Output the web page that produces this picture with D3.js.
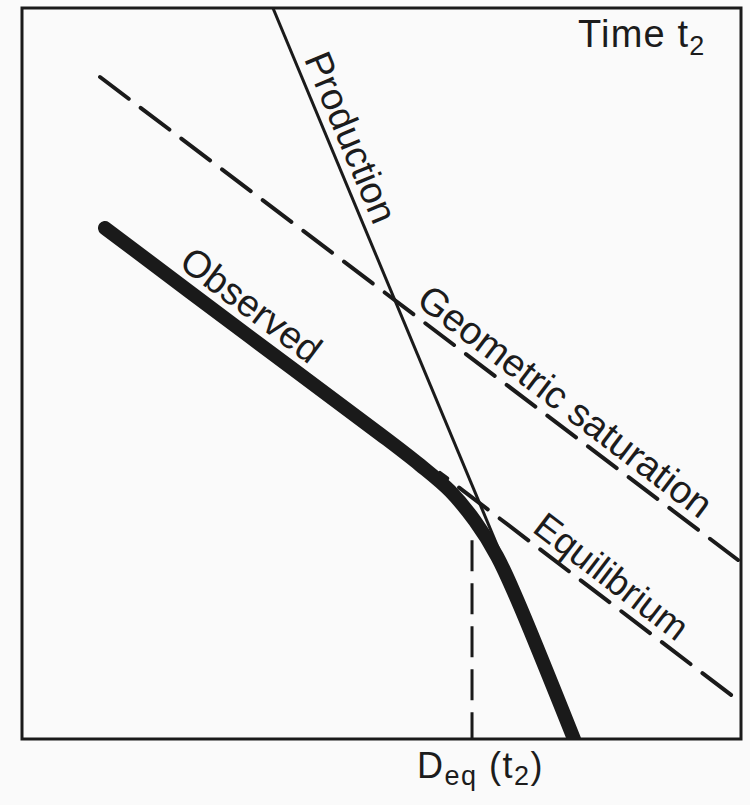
<!DOCTYPE html>
<html>
<head>
<meta charset="utf-8">
<script src="https://cdn.jsdelivr.net/npm/d3@7"></script>
<style>
  html, body { margin: 0; padding: 0; background: #fafafa; }
  svg { display: block; }
  text { font-family: "Liberation Sans", Arial, Helvetica, sans-serif; fill: #1c1c1c; }
</style>
</head>
<body>
<svg id="chart" width="750" height="805"></svg>
<script>
// Schematic crater population at time t2:
// x = log crater diameter, y = log cumulative density (arbitrary units 0-10)
const productionLine      = [{x: 3.49, y: 10.0}, {x: 7.733, y: 0.0}];
const geometricSaturation = [{x: 1.085, y: 9.056}, {x: 9.958, y: 2.449}];
const equilibriumLine     = [{x: 5.814, y: 3.639}, {x: 9.917, y: 0.561}];
const observedCurve = [
  {x: 1.154, y: 6.990},
  {x: 3.171, y: 5.499},
  {x: 4.979, y: 4.172},
  {x: 5.535, y: 3.748},
  {x: 5.953, y: 3.393},
  {x: 6.300, y: 2.982},
  {x: 6.606, y: 2.503},
  {x: 6.871, y: 1.943},
  {x: 7.677, y: 0.0}
];
const equilibriumDiameter = 6.259;   // D_eq(t2)
const equilibriumMarkerTop = 2.72;

const seriesLabels = ["Production", "Geometric saturation", "Observed", "Equilibrium"];
const panelTitle = {main: "Time t", sub: "2"};
const diameterLabel = {main: "D", sub: "eq", arg: "t", argSub: "2"};

const svg = d3.select("#chart");
const frame = {left: 22, top: 8, right: 741, bottom: 739};

const xs = d3.scaleLinear().domain([0, 10]).range([frame.left, frame.right]);
const ys = d3.scaleLinear().domain([0, 10]).range([frame.bottom, frame.top]);

svg.append("defs").append("clipPath").attr("id", "plotClip")
  .append("rect")
  .attr("x", xs(0)).attr("y", ys(10))
  .attr("width", xs(10) - xs(0)).attr("height", ys(0) - ys(10));

const plot = svg.append("g").attr("clip-path", "url(#plotClip)");
const ink = "#1a1a1a";

const straight = d3.line().x(d => xs(d.x)).y(d => ys(d.y));
const smooth = d3.line().x(d => xs(d.x)).y(d => ys(d.y)).curve(d3.curveCatmullRom.alpha(0.5));

// dashed reference lines
plot.append("path").datum(geometricSaturation)
  .attr("d", straight).attr("fill", "none").attr("stroke", ink)
  .attr("stroke-width", 4).attr("stroke-linecap", "round")
  .attr("stroke-dasharray", "36 15");

plot.append("path").datum(equilibriumLine)
  .attr("d", straight).attr("fill", "none").attr("stroke", ink)
  .attr("stroke-width", 4).attr("stroke-linecap", "round")
  .attr("stroke-dasharray", "36 15").attr("stroke-dashoffset", -24);

// vertical marker at the equilibrium diameter
plot.append("path")
  .datum([{x: equilibriumDiameter, y: equilibriumMarkerTop}, {x: equilibriumDiameter, y: 0}])
  .attr("d", straight).attr("fill", "none").attr("stroke", ink)
  .attr("stroke-width", 3).attr("stroke-dasharray", "31 12");

// production function
plot.append("path").datum(productionLine)
  .attr("d", straight).attr("fill", "none").attr("stroke", ink)
  .attr("stroke-width", 3);

// observed distribution
plot.append("path").datum(observedCurve)
  .attr("d", smooth).attr("fill", "none").attr("stroke", ink)
  .attr("stroke-width", 14).attr("stroke-linecap", "round").attr("stroke-linejoin", "round");

// frame
svg.append("rect")
  .attr("x", xs(0)).attr("y", ys(10))
  .attr("width", xs(10) - xs(0)).attr("height", ys(0) - ys(10))
  .attr("fill", "none").attr("stroke", ink).attr("stroke-width", 3);

// labels set along their lines
function labelAlong(p0, p1, t, gap, text, size) {
  const x0 = xs(p0.x), y0 = ys(p0.y), x1 = xs(p1.x), y1 = ys(p1.y);
  const px = x0 + (x1 - x0) * t, py = y0 + (y1 - y0) * t;
  const ang = Math.atan2(y1 - y0, x1 - x0) * 180 / Math.PI;
  svg.append("text")
    .attr("transform", `translate(${px},${py}) rotate(${ang})`)
    .attr("y", -gap)
    .attr("font-size", size)
    .text(text);
}

labelAlong(productionLine[0], productionLine[1], 0.074, 9, seriesLabels[0], 38);
labelAlong(geometricSaturation[0], geometricSaturation[1], 0.485, 9, seriesLabels[1], 38.5);
labelAlong(observedCurve[0], observedCurve[2], 0.235, 13, seriesLabels[2], 38);
labelAlong(equilibriumLine[0], equilibriumLine[1], 0.29, 9, seriesLabels[3], 37);

// panel title
const title = svg.append("text").attr("x", 578).attr("y", 47)
  .attr("font-size", 38).attr("letter-spacing", 1.2);
title.append("tspan").text(panelTitle.main);
title.append("tspan").attr("font-size", 27).attr("dy", 8).text(panelTitle.sub);

// diameter label under the axis
const dl = svg.append("text")
  .attr("x", xs(equilibriumDiameter) - 55).attr("y", 778)
  .attr("font-size", 36).attr("letter-spacing", 1.5);
dl.append("tspan").text(diameterLabel.main);
dl.append("tspan").attr("font-size", 27).attr("dy", 7).text(diameterLabel.sub);
dl.append("tspan").attr("dy", -7).text(" (" + diameterLabel.arg);
dl.append("tspan").attr("font-size", 27).attr("dy", 7).text(diameterLabel.argSub);
dl.append("tspan").attr("dy", -7).text(")");
</script>
</body>
</html>
